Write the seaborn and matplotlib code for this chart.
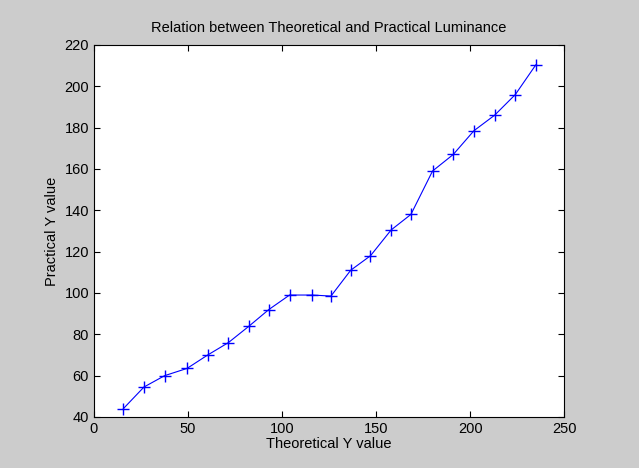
import seaborn as sns
import matplotlib.pyplot as plt
import pandas as pd

theoretical = [15.6, 26.6, 37.6, 49.5, 60.5, 71.5, 82.5, 93.0, 104.0, 116.0, 126.0,
               136.5, 147.0, 158.0, 168.5, 180.0, 191.0, 202.0, 213.0, 224.0, 235.0]
practical = [44, 54.5, 60, 63.5, 70, 76, 84, 92, 99, 99, 98.5,
             111, 118, 130.5, 138, 159, 167, 178.5, 186, 196, 210.5]

df = pd.DataFrame({"Theoretical Y value": theoretical, "Practical Y value": practical})

sns.set_style("ticks")
plt.rcParams['font.family'] = ['Liberation Sans', 'DejaVu Sans']
plt.rcParams['text.color'] = 'black'
plt.rcParams['axes.labelcolor'] = 'black'

fig = plt.figure(figsize=(6.39, 4.68), dpi=100, facecolor='#cccccc')
ax = fig.add_axes([0.147, 0.109, 0.736, 0.795])
ax.set_facecolor('white')

sns.lineplot(data=df, x="Theoretical Y value", y="Practical Y value", ax=ax,
             color='#0000ff', linewidth=0.8, marker='+', markersize=9,
             markeredgewidth=1.0, markeredgecolor='#0000ff')

ax.set_xlim(0, 250)
ax.set_ylim(40, 220)
ax.set_xticks(range(0, 251, 50))
ax.set_yticks(range(40, 221, 20))
ax.tick_params(direction='in', top=True, right=True, length=4, labelsize=10.5,
               colors='black', width=0.8)
for s in ax.spines.values():
    s.set_visible(True)
    s.set_color('black')
    s.set_linewidth(0.8)

ax.set_xlabel("Theoretical Y value", fontsize=10.5, labelpad=1)
ax.set_ylabel("Practical Y value", fontsize=10.5, labelpad=4)
ax.set_title("Relation between Theoretical and Practical Luminance", fontsize=10.5, pad=9)

fig.savefig("out.png", dpi=100, facecolor=fig.get_facecolor())
